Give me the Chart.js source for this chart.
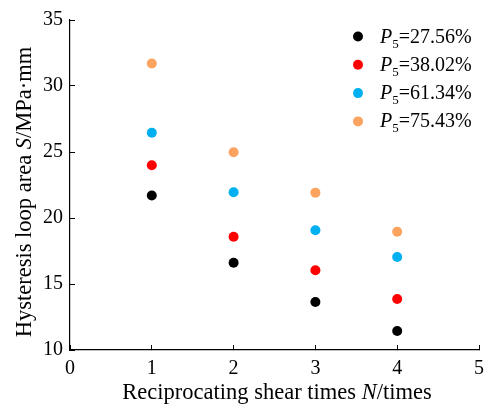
<!DOCTYPE html>
<html>
<head>
<meta charset="utf-8">
<script src="https://cdn.jsdelivr.net/npm/chart.js@4/dist/chart.umd.min.js"></script>
<style>
html,body{margin:0;padding:0;background:#fff;}
#wrap{width:484px;height:407px;position:relative;}
</style>
</head>
<body>
<div id="wrap"><canvas id="c" width="484" height="407"></canvas></div>
<script>
// Data
const shearTimes = [1, 2, 3, 4];
const p5Labels = ['27.56', '38.02', '61.34', '75.43'];
const seriesP27 = [21.7, 16.61, 13.64, 11.44];
const seriesP38 = [24.0, 18.58, 16.04, 13.86];
const seriesP61 = [26.46, 21.95, 19.07, 17.05];
const seriesP75 = [31.7, 24.98, 21.92, 18.96];
const seriesColors = ['#000000', '#ff0000', '#00b0f0', '#fba35f'];
const xTicks = [0, 1, 2, 3, 4, 5];
const yTicks = [10, 15, 20, 25, 30, 35];

const allSeries = [seriesP27, seriesP38, seriesP61, seriesP75];
const FONT = "'Liberation Serif', 'Times New Roman', serif";

const datasets = allSeries.map((vals, i) => ({
  label: 'P5=' + p5Labels[i] + '%',
  data: shearTimes.map((x, j) => ({x: x, y: vals[j]})),
  backgroundColor: seriesColors[i],
  borderColor: seriesColors[i],
  pointRadius: 5,
  pointHoverRadius: 5,
  borderWidth: 0,
  showLine: false
}));

function drawSegments(ctx, segs, x, y, align) {
  let total = 0;
  segs.forEach(s => {
    ctx.font = (s.italic ? 'italic ' : '') + s.size + 'px ' + FONT;
    s.w = ctx.measureText(s.t).width;
    total += s.w;
  });
  let cx = align === 'center' ? x - total / 2 : x;
  segs.forEach(s => {
    ctx.font = (s.italic ? 'italic ' : '') + s.size + 'px ' + FONT;
    ctx.fillText(s.t, cx, y + (s.dy || 0));
    cx += s.w;
  });
}

const annotPlugin = {
  id: 'annot',
  afterDraw(chart) {
    const ctx = chart.ctx;
    const area = chart.chartArea;
    ctx.save();
    ctx.fillStyle = '#000';
    ctx.textBaseline = 'alphabetic';
    ctx.textAlign = 'left';
    // X axis title
    drawSegments(ctx, [
      {t: 'Reciprocating shear times ', size: 22.5},
      {t: 'N', size: 22.5, italic: true},
      {t: '/times', size: 22.5}
    ], 277, 399, 'center');
    // Y axis title
    ctx.save();
    ctx.translate(31, 192);
    ctx.rotate(-Math.PI / 2);
    drawSegments(ctx, [
      {t: 'Hysteresis loop area ', size: 22.5},
      {t: 'S', size: 22.5, italic: true},
      {t: '/MPa\u00B7mm', size: 22.5}
    ], 0, 0, 'center');
    ctx.restore();
    // Legend
    const lx = 358, ly0 = 36.5, dy = 28.3;
    chart.data.datasets.forEach((ds, i) => {
      const y = ly0 + i * dy;
      ctx.beginPath();
      ctx.arc(lx, y, 5, 0, Math.PI * 2);
      ctx.fillStyle = ds.backgroundColor;
      ctx.fill();
      ctx.fillStyle = '#000';
      drawSegments(ctx, [
        {t: 'P', size: 20, italic: true},
        {t: '5', size: 13, dy: 5},
        {t: '=' + p5Labels[i] + '%', size: 20}
      ], 380, y + 6, 'left');
    });
    ctx.restore();
  }
};

new Chart(document.getElementById('c'), {
  type: 'scatter',
  data: {datasets: datasets},
  options: {
    responsive: false,
    animation: false,
    events: [],
    layout: {padding: {left: 0, top: 20, right: 3, bottom: 0}},
    plugins: {legend: {display: false}, tooltip: {enabled: false}},
    scales: {
      x: {
        type: 'linear',
        min: 0, max: 5,
        afterBuildTicks(scale) { scale.ticks = xTicks.map(v => ({value: v})); },
        afterFit(scale) { scale.height = 57; scale.paddingLeft = 0; scale.paddingRight = 0; },
        grid: {drawOnChartArea: false, tickLength: -5, color: '#000', lineWidth: 1},
        border: {color: '#000', width: 1.2},
        ticks: {color: '#000', font: {family: FONT, size: 20}, padding: 12, maxRotation: 0, autoSkip: false}
      },
      y: {
        type: 'linear',
        min: 10, max: 35,
        afterBuildTicks(scale) { scale.ticks = yTicks.map(v => ({value: v})); },
        afterFit(scale) { scale.width = 70; scale.paddingTop = 0; scale.paddingBottom = 0; },
        grid: {drawOnChartArea: false, tickLength: -5, color: '#000', lineWidth: 1},
        border: {color: '#000', width: 1.2},
        ticks: {color: '#000', font: {family: FONT, size: 20}, padding: 12, autoSkip: false}
      }
    }
  },
  plugins: [annotPlugin]
});
</script>
</body>
</html>
